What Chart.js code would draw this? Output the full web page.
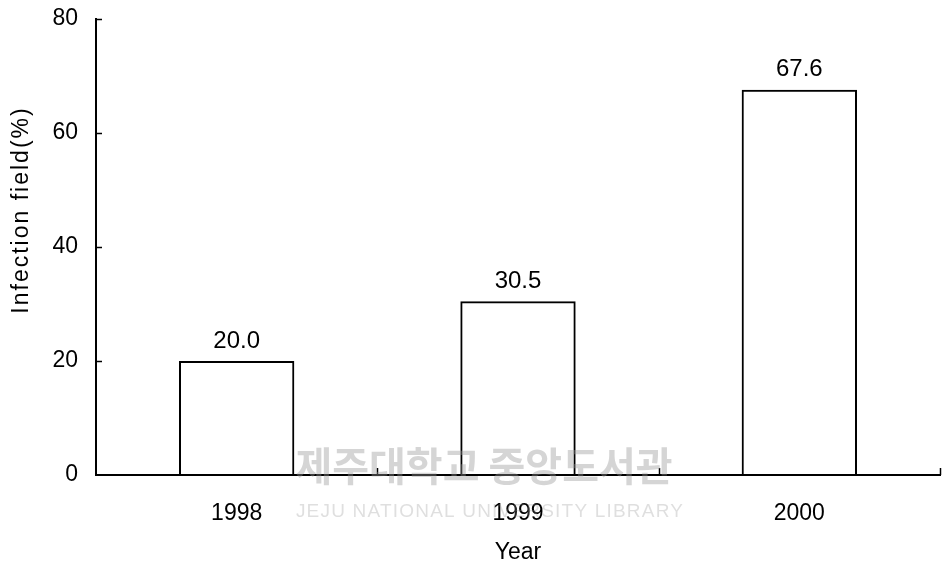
<!DOCTYPE html>
<html>
<head>
<meta charset="utf-8">
<script src="https://cdn.jsdelivr.net/npm/chart.js@4/dist/chart.umd.min.js"></script>
<style>
html,body{margin:0;padding:0;background:#fff;}
#wrap{width:946px;height:565px;position:relative;}
</style>
</head>
<body>
<div id="wrap"><canvas id="c" width="946" height="565"></canvas></div>
<script>
const categories = ["1998", "1999", "2000"];
const infectionValues = [20.0, 30.5, 67.6];
const yTicks = [0, 20, 40, 60, 80];
const yTitle = "Infection field(%)";
const xTitle = "Year";
const watermarkKo = "제주대학교 중앙도서관";
const watermarkEn = "JEJU NATIONAL UNIVERSITY LIBRARY";

const FONT = "'Liberation Sans', Arial, sans-serif";

const customDraw = {
  id: 'customDraw',
  afterDatasetsDraw(chart) {
    const ctx = chart.ctx;
    const x = chart.scales.x, y = chart.scales.y;
    const area = chart.chartArea;
    ctx.save();
    ctx.strokeStyle = '#000';
    ctx.lineWidth = 1.5;
    yTicks.forEach(v => {
      if (v === 0) return;
      const py = Math.round(y.getPixelForValue(v)) + 0.5;
      ctx.beginPath();
      ctx.moveTo(area.left, py);
      ctx.lineTo(area.left + 6, py);
      ctx.stroke();
    });
    const n = categories.length;
    for (let i = 0; i < n; i++) {
      let px;
      if (i < n - 1) px = (x.getPixelForValue(i) + x.getPixelForValue(i + 1)) / 2;
      else px = area.right;
      px = Math.round(px) + 0.5;
      ctx.beginPath();
      ctx.moveTo(px, area.bottom);
      ctx.lineTo(px, area.bottom - 7);
      ctx.stroke();
    }
    ctx.fillStyle = '#000';
    ctx.font = "24px " + FONT;
    ctx.textAlign = 'center';
    ctx.textBaseline = 'bottom';
    const meta = chart.getDatasetMeta(0);
    meta.data.forEach((bar, i) => {
      ctx.fillText(infectionValues[i].toFixed(1), bar.x, bar.y - 8);
    });
    ctx.font = "23px " + FONT;
    ctx.textBaseline = 'middle';
    ctx.fillText(xTitle, (area.left + area.right) / 2, 553);
    ctx.save();
    ctx.translate(22, 210);
    ctx.rotate(-Math.PI / 2);
    ctx.letterSpacing = '2px';
    ctx.fillText(yTitle, 0, 0);
    ctx.restore();
    ctx.restore();
  },
  afterDraw(chart) {
    const ctx = chart.ctx;
    ctx.save();
    ctx.textAlign = 'center';
    ctx.textBaseline = 'middle';
    ctx.fillStyle = 'rgba(150,150,150,0.4)';
    ctx.font = "bold 40px 'Noto Sans CJK KR', sans-serif";
    ctx.fillText(watermarkKo, 484, 466);
    ctx.fillStyle = 'rgba(150,150,150,0.3)';
    ctx.font = "19px " + FONT;
    ctx.letterSpacing = '1.2px';
    ctx.fillText(watermarkEn, 490, 512);
    ctx.restore();
  }
};

new Chart(document.getElementById('c'), {
  type: 'bar',
  data: {
    labels: categories,
    datasets: [{
      data: infectionValues,
      backgroundColor: 'rgba(255,255,255,0)',
      borderColor: '#000',
      borderWidth: 2,
      borderSkipped: 'bottom',
      barPercentage: 0.41,
      categoryPercentage: 1.0
    }]
  },
  options: {
    responsive: false,
    animation: false,
    layout: { autoPadding: false, padding: { left: 0, top: 19, right: 6, bottom: 0 } },
    plugins: { legend: { display: false }, tooltip: { enabled: false } },
    scales: {
      x: {
        grid: { display: false, drawTicks: false },
        border: { display: true, color: '#000', width: 2 },
        ticks: { color: '#000', font: { family: FONT, size: 23 }, padding: 25, maxRotation: 0 },
        afterFit(s) { s.height = 90; s.paddingLeft = 0; s.paddingRight = 0; }
      },
      y: {
        min: 0, max: 80,
        afterBuildTicks(s) { s.ticks = yTicks.map(v => ({ value: v })); },
        grid: { display: false, drawTicks: false },
        border: { display: true, color: '#000', width: 2 },
        ticks: { color: '#000', font: { family: FONT, size: 23 }, padding: 18 },
        afterFit(s) { s.width = 96; s.paddingTop = 0; s.paddingBottom = 0; }
      }
    }
  },
  plugins: [customDraw]
});
</script>
</body>
</html>
